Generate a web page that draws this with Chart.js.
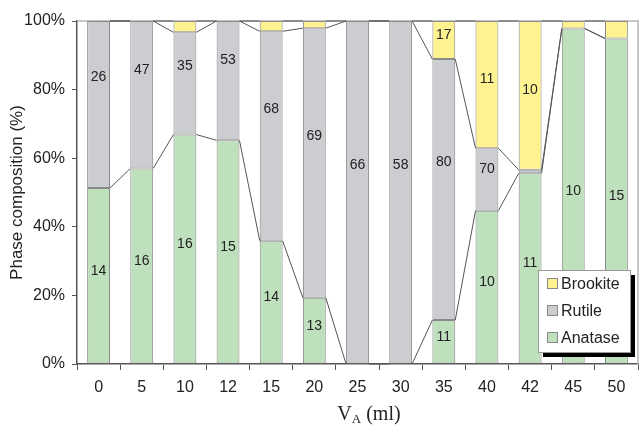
<!DOCTYPE html>
<html>
<head>
<meta charset="utf-8">
<script src="https://cdn.jsdelivr.net/npm/chart.js@4.4.1/dist/chart.umd.min.js"></script>
<style>
  html, body { margin: 0; padding: 0; background: #fff; }
  #wrap { width: 644px; height: 425px; }
</style>
</head>
<body>
<div id="wrap"><canvas id="phase-chart" width="644" height="425"></canvas></div>
<script>
// Sample volumes (ml)
const volumes = ['0', '5', '10', '12', '15', '20', '25', '30', '35', '40', '42', '45', '50'];

// Phase composition (%)
const anatase = [51.3, 57.0, 66.9, 65.2, 35.9, 19.3, 0, 0, 12.8, 44.7, 55.6, 97.8, 94.9];
const rutile = [48.7, 43.0, 29.8, 34.8, 61.1, 78.6, 100, 100, 76.1, 18.2, 1.0, 0, 0];
const brookite = [0, 0, 3.3, 0, 3.0, 2.1, 0, 0, 11.1, 37.1, 43.4, 2.2, 5.1];

// Crystallite size labels printed in the bars (nm)
const anataseSize = [14, 16, 16, 15, 14, 13, null, null, 11, 10, 11, 10, 15];
const rutileSize = [26, 47, 35, 53, 68, 69, 66, 58, 80, 70, null, null, null];
const brookiteSize = [null, null, null, null, null, null, null, null, 17, 11, 10, null, null];

const yTicks = [0, 20, 40, 60, 80, 100];

const FONT = '"Liberation Sans", Arial, sans-serif';
const SERIF = '"Liberation Serif", "Times New Roman", serif';
const TEXT = '#222';

// Frame on top and right of the plot
const frame = {
  id: 'frame',
  beforeDatasetsDraw(c) {
    const a = c.chartArea;
    const g = c.ctx;
    g.save();
    g.strokeStyle = '#b5b5b5';
    g.lineWidth = 1.5;
    g.beginPath();
    g.moveTo(a.left, a.top);
    g.lineTo(a.right, a.top);
    g.lineTo(a.right, a.bottom);
    g.stroke();
    g.restore();
  },
};

// Excel-like series lines joining the segment tops
const seriesLines = {
  id: 'seriesLines',
  afterDatasetsDraw(c) {
    const g = c.ctx;
    g.save();
    g.strokeStyle = '#555';
    g.lineWidth = 1;
    c.data.datasets.forEach((ds, d) => {
      const bars = c.getDatasetMeta(d).data;
      for (let i = 0; i < bars.length - 1; i++) {
        const a = bars[i];
        const b = bars[i + 1];
        g.beginPath();
        g.moveTo(a.x + a.width / 2, a.y);
        g.lineTo(b.x - b.width / 2, b.y);
        g.stroke();
      }
    });
    g.restore();
  },
};

// Size numbers inside the segments
const sizeLabels = {
  id: 'sizeLabels',
  afterDatasetsDraw(c) {
    const g = c.ctx;
    g.save();
    g.font = '14px ' + FONT;
    g.fillStyle = TEXT;
    g.textAlign = 'center';
    g.textBaseline = 'middle';
    c.data.datasets.forEach((ds, d) => {
      const bars = c.getDatasetMeta(d).data;
      bars.forEach((bar, i) => {
        const v = ds.sizes[i];
        if (v == null) return;
        const h = bar.base - bar.y;
        const shift = d === 1 ? Math.min(27, 0.17 * h) : 5;
        g.fillText(String(v), bar.x, (bar.y + bar.base) / 2 - shift);
      });
    });
    g.restore();
  },
};

// Boxed legend with drop shadow, plus the x title with subscript
const extras = {
  id: 'extras',
  afterDraw(c) {
    const g = c.ctx;
    g.save();
    // legend
    const lx = 538, ly = 270, lw = 92, lh = 82;
    g.fillStyle = '#000';
    g.fillRect(lx + 5, ly + 5, lw, lh);
    g.fillStyle = '#fff';
    g.fillRect(lx, ly, lw, lh);
    g.strokeStyle = '#999';
    g.lineWidth = 1;
    g.strokeRect(lx + 0.5, ly + 0.5, lw, lh);
    const items = c.data.datasets.map((ds) => ds).reverse();
    g.font = '16px ' + FONT;
    g.textBaseline = 'middle';
    g.textAlign = 'left';
    items.forEach((ds, k) => {
      const cy = ly + 13.5 + k * 27;
      g.fillStyle = ds.backgroundColor;
      g.fillRect(lx + 9, cy - 5.5, 11, 11);
      g.strokeStyle = '#888';
      g.strokeRect(lx + 9.5, cy - 5, 10, 10);
      g.fillStyle = TEXT;
      g.fillText(ds.label, lx + 23, cy + 1);
    });
    // x title: V_A (ml)
    const cx = 369;
    const base = 420;
    g.fillStyle = TEXT;
    g.font = '20px ' + SERIF;
    const wV = g.measureText('V').width;
    const rest = ' (ml)';
    const wR = g.measureText(rest).width;
    g.font = '13px ' + SERIF;
    const wA = g.measureText('A').width;
    let x = cx - (wV + wA + wR) / 2;
    g.textBaseline = 'alphabetic';
    g.font = '20px ' + SERIF;
    g.fillText('V', x, base);
    x += wV;
    g.font = '13px ' + SERIF;
    g.fillText('A', x, base + 3);
    x += wA;
    g.font = '20px ' + SERIF;
    g.fillText(rest, x, base);
    g.restore();
  },
};

const common = {
  borderColor: '#8a8a8a',
  borderWidth: 1,
  borderSkipped: false,
  barPercentage: 0.53,
  categoryPercentage: 1,
};

new Chart(document.getElementById('phase-chart'), {
  type: 'bar',
  data: {
    labels: volumes,
    datasets: [
      { label: 'Anatase', data: anatase, sizes: anataseSize, backgroundColor: '#bfe0bd', ...common },
      { label: 'Rutile', data: rutile, sizes: rutileSize, backgroundColor: '#cbcdd0', ...common },
      { label: 'Brookite', data: brookite, sizes: brookiteSize, backgroundColor: '#fff391', ...common },
    ],
  },
  options: {
    responsive: false,
    animation: false,
    layout: { padding: { top: 21, right: 6, left: 0, bottom: 0 } },
    scales: {
      x: {
        stacked: true,
        grid: {
          drawOnChartArea: false,
          offset: true,
          tickLength: 6,
          color: '#555',
        },
        border: { color: '#555', width: 1.5 },
        ticks: { font: { family: FONT, size: 16 }, color: TEXT, padding: 8, maxRotation: 0 },
        afterFit: (s) => { s.height = 61; },
      },
      y: {
        stacked: true,
        min: 0,
        max: 100,
        afterBuildTicks: (s) => { s.ticks = yTicks.map((v) => ({ value: v })); },
        grid: { drawOnChartArea: false, tickLength: 5, color: '#555' },
        border: { color: '#555', width: 1.5 },
        ticks: {
          font: { family: FONT, size: 16 },
          color: TEXT,
          padding: 7,
          callback: (v) => v + '%',
        },
        title: {
          display: true,
          text: 'Phase composition (%)',
          font: { family: FONT, size: 17 },
          color: TEXT,
          padding: { top: 7, bottom: 0 },
        },
        afterFit: (s) => { s.width = 77; },
      },
    },
    plugins: {
      legend: { display: false },
      tooltip: { enabled: false },
    },
  },
  plugins: [frame, seriesLines, sizeLabels, extras],
});
</script>
</body>
</html>
